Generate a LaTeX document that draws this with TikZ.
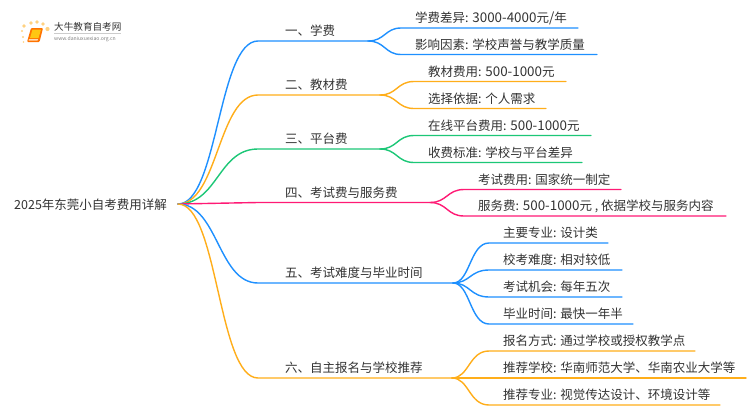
\documentclass[tikz,border=0pt]{standalone}
\usepackage{fontspec}
\setmainfont{Noto Sans CJK SC}
\definecolor{cblue}{HTML}{1E90FF}
\definecolor{corange}{HTML}{FFAE1A}
\definecolor{cgreen}{HTML}{1CC777}
\definecolor{cpink}{HTML}{FF1A75}
\definecolor{ctext}{HTML}{333333}
\newcommand{\num}[1]{{\fontsize{13.4}{14}\selectfont #1}}
\tikzset{
  link/.style={line width=1.4pt,line cap=round},
  lbl/.style={anchor=base west,inner sep=0pt,text=ctext,font=\fontsize{12.5}{14}\selectfont},
}
\newcommand{\branch}[5]{% name, colour, y, end x, text
  \coordinate (#1s) at (258,#3);
  \coordinate (#1e) at (#4,#3);
  \draw[link,#2] (root) .. controls (218,204) and (218,#3) .. (#1s) -- (#1e);
  \node[lbl] (#1t) at (285,#3-5.4) {#5};
}
\newcommand{\leaf}[7]{% name, parent, colour, text x, y, end x, text
  \coordinate (#1a) at (#4-14,#5);
  \coordinate (#1b) at (#6,#5);
  \path (#2e) ++(17,0) coordinate (#1c);
  \draw[link,#3] (#2e) .. controls (#1c |- #2e) and (#1c |- #1a) .. (#1a) -- (#1b);
  \node[lbl] (#1t) at (#4,#5-5.4) {#7};
}
\begin{document}
\begin{tikzpicture}[x=1pt,y=-1pt]
\useasboundingbox (0,0) rectangle (750,410);
\fill[white] (0,0) rectangle (750,410);
% logo
\foreach \px/\py/\r in {24/26/1.8,31/23/1.9,37/22/1.9,43/24/1.8,47.5/29/2.1,22/31/1.2,23/37/1.1,23.5/42/0.9}
  \fill[corange!55!white] (\px,\py) circle (\r);
\fill[orange!90!red,rounded corners=1pt] (31,28) -- (43,28) -- (39.5,42) -- (27,42) -- cycle;
\fill[corange!70!yellow] (32.5,29.5) -- (41,29.5) -- (38.5,38) -- (30,38) -- cycle;
\fill[orange!30!white] (29,39) -- (38,39) -- (37.6,40.5) -- (28.6,40.5) -- cycle;
\node[anchor=base west,inner sep=0pt,text=ctext,font=\fontsize{9.6}{10}\selectfont] (logoa) at (54,30.5) {大牛教育自考网};
\draw[gray!40,line width=.5pt] (54,33.5) -- (121,33.5);
\node[anchor=base west,inner sep=0pt,text=gray,font=\fontsize{5.1}{6}\selectfont] (logob) at (54,40.5) {www.daniuxuexiao.org.cn};
% root
\coordinate (root) at (178,204);
\node[lbl] (roott) at (14,209) {2025年东莞小自考费用详解};
% branches
\branch{a}{cblue}{41}{368}{一、学费}
\branch{b}{corange}{95}{380}{二、教材费}
\branch{c}{cgreen}{149}{380}{三、平台费}
\branch{d}{cpink}{202.5}{430}{四、考试费与服务费}
\branch{e}{cblue}{283}{453}{五、考试难度与毕业时间}
\branch{f}{corange}{378}{452}{六、自主报名与学校推荐}
% leaves
\leaf{a1}{a}{cblue}{415}{28}{578}{学费差异: \num{3000-4000}元\num{/}年}
\leaf{a2}{a}{cblue}{415}{54.5}{597}{影响因素: 学校声誉与教学质量}
\leaf{b1}{b}{corange}{428}{81.5}{566}{教材费用: \num{500-1000}元}
\leaf{b2}{b}{corange}{428}{108.5}{546}{选择依据: 个人需求}
\leaf{c1}{c}{cgreen}{428}{135.5}{591}{在线平台费用: \num{500-1000}元}
\leaf{c2}{c}{cgreen}{428}{162.5}{582}{收费标准: 学校与平台差异}
\leaf{d1}{d}{cpink}{478}{189.5}{621}{考试费用: 国家统一制定}
\leaf{d2}{d}{cpink}{478}{216}{726}{服务费: \num{500-1000}元 , 依据学校与服务内容}
\leaf{e1}{e}{cblue}{503}{243}{608}{主要专业: 设计类}
\leaf{e2}{e}{cblue}{503}{270}{622}{校考难度: 相对较低}
\leaf{e3}{e}{cblue}{503}{297}{622}{考试机会: 每年五次}
\leaf{e4}{e}{cblue}{503}{324}{633}{毕业时间: 最快一年半}
\leaf{f1}{f}{corange}{503}{351}{695}{报名方式: 通过学校或授权教学点}
\leaf{f2}{f}{corange}{503}{378}{746}{推荐学校: 华南师范大学、华南农业大学等}
\leaf{f3}{f}{corange}{503}{405}{720}{推荐专业: 视觉传达设计、环境设计等}
\end{tikzpicture}
\end{document}
